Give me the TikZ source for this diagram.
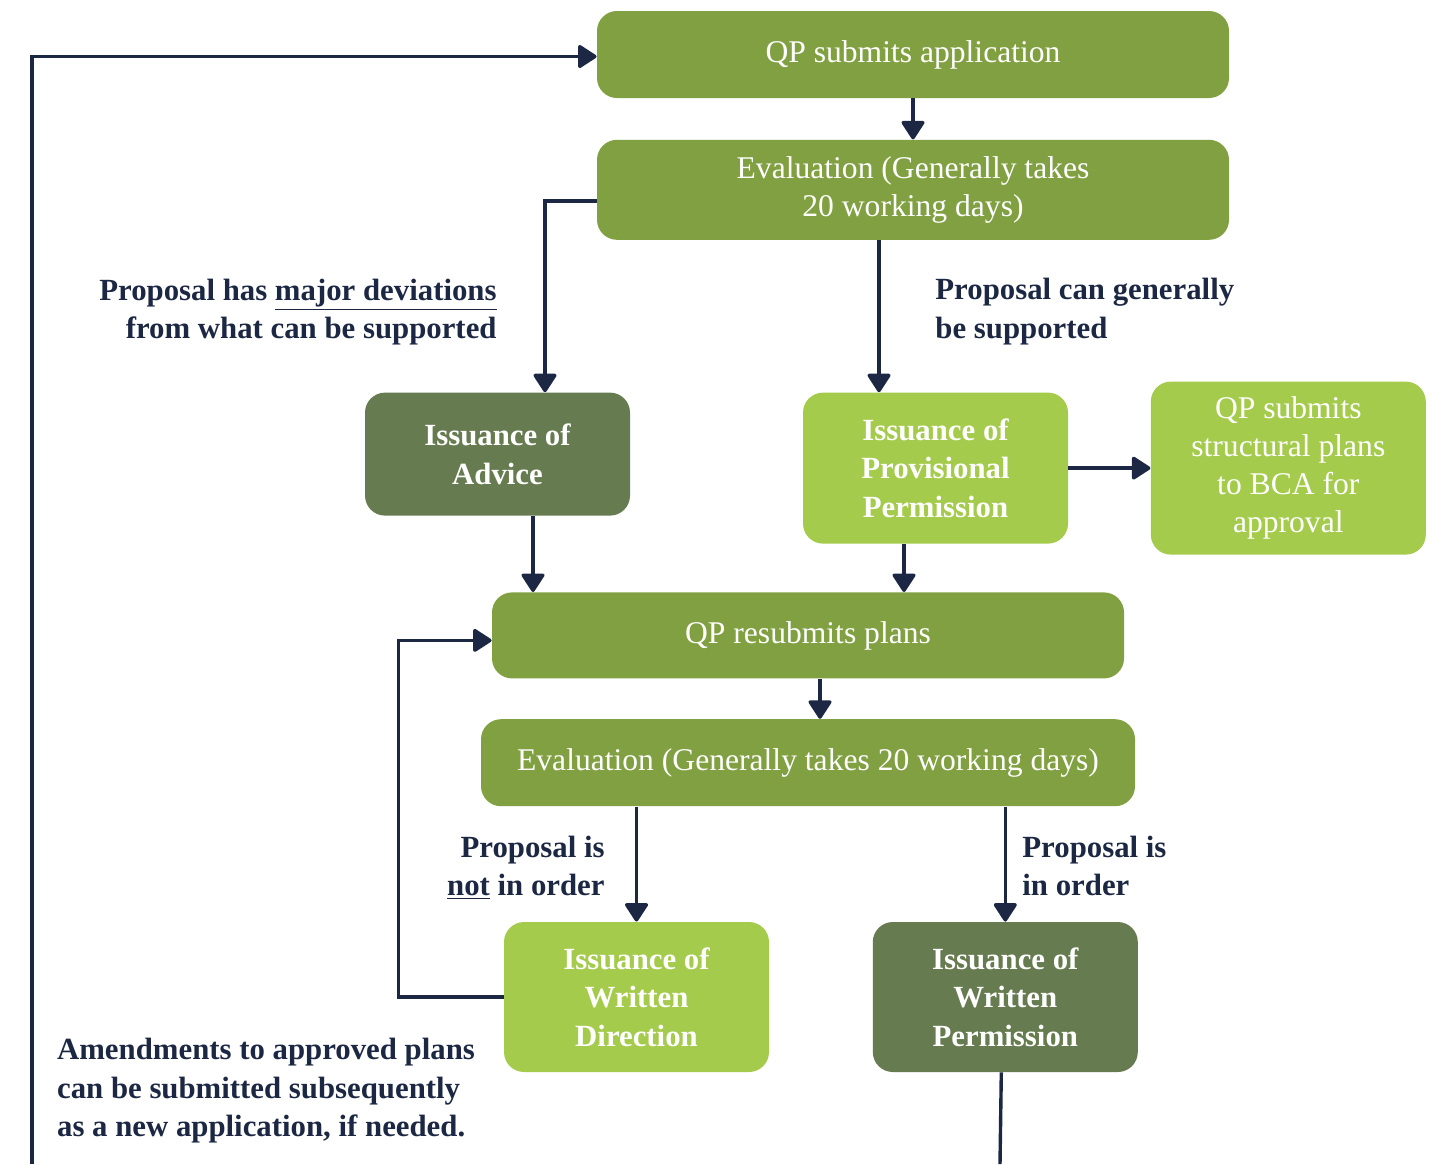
\documentclass[tikz,border=0pt]{standalone}
\usepackage{fontspec}
\setmainfont{Liberation Serif}
\usepackage{xcolor}
\usepackage{tikz}
\usetikzlibrary{arrows.meta, positioning}

\definecolor{midgreen}{HTML}{80A041}
\definecolor{darkolive}{HTML}{667B4F}
\definecolor{litegreen}{HTML}{A5CB4D}
\definecolor{navy}{HTML}{1C2843}

\begin{document}
\begin{tikzpicture}[x=0.5pt, y=-0.5pt]
\tikzstyle{flowbox} = [rectangle, rounded corners=10pt, text=white, align=center, inner sep=0pt, font=\fontsize{15.8}{19}\selectfont]
\tikzstyle{mid} = [flowbox, fill=midgreen, minimum width=316pt, minimum height=43.5pt]
\tikzstyle{iss} = [flowbox, minimum width=132.5pt, minimum height=75pt, font=\fontsize{15.4}{19.2}\selectfont\bfseries]
\tikzstyle{lbl} = [text=navy, align=left, inner sep=0pt, font=\fontsize{15.4}{19.2}\selectfont\bfseries]
\tikzstyle{arrow} = [draw=navy, line width=1.7pt, -{Triangle[length=10pt, width=12.5pt, round]}]
\tikzstyle{plain} = [draw=navy, line width=1.7pt]

\useasboundingbox (0,0) rectangle (1433,1164);

\node (app) [mid] at (913,54.5) {QP submits application};
\node (eval) [mid, minimum height=50pt, below=20.5pt of app] {Evaluation (Generally takes\\20 working days)};

\node (advice) [iss, fill=darkolive, minimum height=61.5pt, below=76pt of eval, xshift=-207.75pt] {Issuance of\\Advice};
\node (prov) [iss, fill=litegreen, minimum height=75.5pt, below=76pt of eval, xshift=11.25pt] {Issuance of\\Provisional\\Permission};
\node (bca) [flowbox, fill=litegreen, minimum width=137.5pt, minimum height=86.5pt, right=41pt of prov] {QP submits\\structural plans\\to BCA for\\approval};

\node (resub) [mid, minimum height=43pt, below=24pt of prov, xshift=-63.75pt] {QP resubmits plans};
\node (reeval) [mid, minimum width=327pt, below=20pt of resub] {Evaluation (Generally takes 20 working days)};

\node (direction) [iss, fill=litegreen, below=57.5pt of reeval, xshift=-85.75pt] {Issuance of\\Written\\Direction};
\node (permission) [iss, fill=darkolive, right=51.5pt of direction] {Issuance of\\Written\\Permission};

\node (devlbl) [lbl, align=right, anchor=base east] at (497,338.7) {Proposal has \underline{major deviations}\\from what can be supported};
\node (supplbl) [lbl, anchor=base west] at (935,338) {Proposal can generally\\be supported};
\node (notlbl) [lbl, align=right, anchor=base east] at (605,895.7) {Proposal is\\\underline{not} in order};
\node (oklbl) [lbl, anchor=base west] at (1022,895.7) {Proposal is\\in order};
\node (amendlbl) [lbl, anchor=base west] at (56.7,1136.7) {Amendments to approved plans\\can be submitted subsequently\\as a new application, if needed.};

\coordinate (loopstart) at (32,1164);
\coordinate (permend) at (1000,1164);

\draw [arrow] (loopstart) |- ([yshift=-1pt]app.west);
\draw [arrow] (app) -- (eval);
\draw [arrow] ([yshift=-5.5pt]eval.west) -| ([xshift=23.75pt]advice.north);
\draw [arrow] ([xshift=-28.25pt]prov.north |- eval.south) -- ([xshift=-28.25pt]prov.north);
\draw [arrow] (prov) -- (bca);
\draw [arrow] ([xshift=17.75pt]advice.south) -- ([xshift=17.75pt]advice.south |- resub.north);
\draw [arrow] ([xshift=-15.75pt]prov.south) -- ([xshift=-15.75pt]prov.south |- resub.north);
\draw [arrow] ([xshift=6pt]resub.south) -- ([xshift=6pt]reeval.north);
\draw [arrow] (direction.north |- reeval.south) -- (direction.north);
\draw [arrow] (permission.north |- reeval.south) -- (permission.north);
\draw [arrow] (direction.west) -- ++(-52.5pt,0) |- ([yshift=-2.5pt]resub.west);
\draw [plain] ([xshift=-2pt]permission.south) -- (permend);

\end{tikzpicture}
\end{document}
